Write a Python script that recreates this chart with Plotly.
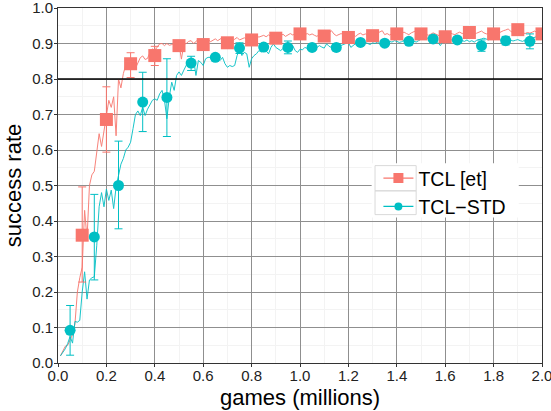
import plotly.graph_objects as go

# Training curves: success rate vs. games played (millions)
games = [round(0.01 * i, 2) for i in range(1, 201)]

tcl_et_curve = [
    0.02, 0.035, 0.047, 0.05, 0.065, 0.08, 0.11, 0.20, 0.24, 0.27,
    0.43, 0.35, 0.50, 0.53, 0.54, 0.60, 0.646, 0.61, 0.65, 0.69,
    0.74, 0.72, 0.75, 0.64, 0.80, 0.775, 0.815, 0.84, 0.845, 0.835,
    0.845, 0.83, 0.845, 0.86, 0.865, 0.855, 0.858, 0.875, 0.885, 0.88,
    0.89, 0.899, 0.90, 0.894, 0.90, 0.895, 0.897, 0.90, 0.895, 0.898,
    0.856, 0.898, 0.90, 0.906, 0.908, 0.90, 0.905, 0.913, 0.905, 0.902,
    0.908, 0.912, 0.905, 0.91, 0.913, 0.908, 0.912, 0.917, 0.91, 0.908,
    0.91, 0.906, 0.912, 0.917, 0.91, 0.913, 0.916, 0.912, 0.918, 0.915,
    0.919, 0.922, 0.918, 0.92, 0.923, 0.919, 0.924, 0.92, 0.922, 0.925,
    0.927, 0.922, 0.926, 0.92, 0.925, 0.928, 0.924, 0.927, 0.93, 0.927,
    0.929, 0.925, 0.928, 0.924, 0.927, 0.923, 0.92, 0.926, 0.929, 0.922,
    0.925, 0.93, 0.936, 0.927, 0.922, 0.925, 0.928, 0.924, 0.92, 0.918,
    0.922, 0.925, 0.92, 0.926, 0.929, 0.924, 0.927, 0.922, 0.925, 0.928,
    0.926, 0.93, 0.933, 0.936, 0.925, 0.928, 0.924, 0.927, 0.93, 0.927,
    0.925, 0.929, 0.932, 0.928, 0.925, 0.93, 0.934, 0.936, 0.93, 0.928,
    0.925, 0.927, 0.923, 0.926, 0.93, 0.927, 0.924, 0.92, 0.925, 0.922,
    0.926, 0.93, 0.927, 0.925, 0.929, 0.932, 0.928, 0.93, 0.933, 0.931,
    0.928, 0.926, 0.929, 0.932, 0.935, 0.93, 0.927, 0.929, 0.926, 0.928,
    0.931, 0.929, 0.933, 0.936, 0.938, 0.941, 0.935, 0.93, 0.934, 0.937,
    0.933, 0.93, 0.928, 0.931, 0.929, 0.932, 0.935, 0.931, 0.933, 0.934,
]

tcl_std_curve = [
    0.02, 0.03, 0.04, 0.055, 0.075, 0.056, 0.117, 0.115, 0.12, 0.20,
    0.257, 0.18, 0.234, 0.24, 0.243, 0.33, 0.44, 0.48, 0.44, 0.49,
    0.458, 0.487, 0.435, 0.496, 0.53, 0.56, 0.576, 0.60, 0.608, 0.622,
    0.66, 0.70, 0.71, 0.697, 0.721, 0.697, 0.715, 0.728, 0.74, 0.744,
    0.74, 0.758, 0.768, 0.74, 0.688, 0.75, 0.791, 0.768, 0.81, 0.82,
    0.81, 0.825, 0.84, 0.852, 0.843, 0.857, 0.81, 0.852, 0.847, 0.838,
    0.857, 0.861, 0.861, 0.866, 0.862, 0.858, 0.852, 0.861, 0.843, 0.833,
    0.838, 0.835, 0.838, 0.866, 0.883, 0.866, 0.875, 0.871, 0.833, 0.857,
    0.866, 0.871, 0.88, 0.876, 0.882, 0.879, 0.871, 0.889, 0.899, 0.889,
    0.885, 0.88, 0.886, 0.889, 0.894, 0.891, 0.894, 0.88, 0.875, 0.884,
    0.882, 0.889, 0.886, 0.889, 0.887, 0.885, 0.889, 0.894, 0.89, 0.887,
    0.899, 0.892, 0.889, 0.886, 0.889, 0.892, 0.894, 0.898, 0.901, 0.903,
    0.889, 0.895, 0.90, 0.898, 0.902, 0.899, 0.903, 0.90, 0.897, 0.902,
    0.90, 0.904, 0.899, 0.901, 0.898, 0.903, 0.906, 0.904, 0.908, 0.906,
    0.903, 0.905, 0.909, 0.913, 0.908, 0.91, 0.907, 0.904, 0.908, 0.913,
    0.916, 0.917, 0.914, 0.917, 0.913, 0.909, 0.903, 0.894, 0.905, 0.91,
    0.912, 0.909, 0.911, 0.907, 0.91, 0.912, 0.908, 0.906, 0.91, 0.905,
    0.908, 0.904, 0.909, 0.912, 0.913, 0.915, 0.913, 0.91, 0.914, 0.915,
    0.917, 0.913, 0.909, 0.906, 0.91, 0.913, 0.91, 0.907, 0.909, 0.911,
    0.908, 0.906, 0.91, 0.913, 0.917, 0.915, 0.918, 0.92, 0.923, 0.925,
]

# Evaluation checkpoints with error bars
tcl_et_x = [0.1, 0.2, 0.3, 0.4, 0.5, 0.6, 0.7, 0.8, 0.9, 1.0,
            1.1, 1.2, 1.3, 1.4, 1.5, 1.6, 1.7, 1.8, 1.9, 2.0]
tcl_et_y = [0.36, 0.686, 0.843, 0.866, 0.894, 0.897, 0.902, 0.91, 0.915, 0.927,
            0.921, 0.917, 0.922, 0.927, 0.927, 0.919, 0.931, 0.927, 0.939, 0.927]
tcl_et_err_hi = [0.136, 0.092, 0.031, 0.026, 0.008, 0.007, 0.006, 0.006, 0.005, 0.005,
                 0.005, 0.005, 0.005, 0.005, 0.005, 0.005, 0.005, 0.005, 0.005, 0.005]
tcl_et_err_lo = [0.132, 0.092, 0.039, 0.028, 0.008, 0.007, 0.006, 0.006, 0.005, 0.005,
                 0.005, 0.005, 0.005, 0.005, 0.005, 0.005, 0.005, 0.005, 0.005, 0.005]

tcl_std_x = [0.05, 0.15, 0.25, 0.35, 0.45, 0.55, 0.65, 0.75, 0.85, 0.95,
             1.05, 1.15, 1.25, 1.35, 1.45, 1.55, 1.65, 1.75, 1.85, 1.95]
tcl_std_y = [0.092, 0.355, 0.50, 0.735, 0.748, 0.845, 0.861, 0.887, 0.89, 0.889,
             0.889, 0.889, 0.903, 0.901, 0.906, 0.913, 0.91, 0.894, 0.908, 0.906]
tcl_std_err_hi = [0.07, 0.12, 0.125, 0.084, 0.109, 0.019, 0.008, 0.015, 0.008, 0.018,
                  0.008, 0.01, 0.008, 0.008, 0.008, 0.008, 0.008, 0.016, 0.012, 0.021]
tcl_std_err_lo = [0.07, 0.121, 0.122, 0.083, 0.11, 0.021, 0.008, 0.015, 0.008, 0.018,
                  0.008, 0.01, 0.008, 0.008, 0.008, 0.008, 0.008, 0.016, 0.012, 0.021]

series_names = ["TCL [et]", "TCL\u2212STD"]
TARGET_RATE = 0.8

x_ticks = [0.0, 0.2, 0.4, 0.6, 0.8, 1.0, 1.2, 1.4, 1.6, 1.8, 2.0]
y_ticks = [0.0, 0.1, 0.2, 0.3, 0.4, 0.5, 0.6, 0.7, 0.8, 0.9, 1.0]

RED = "#F8766D"
CYAN = "#00BFC4"
FONT = "Liberation Sans, Arial, Helvetica, sans-serif"

fig = go.Figure()

# noisy running curves
fig.add_trace(go.Scatter(x=games, y=tcl_et_curve, mode="lines",
                         line=dict(color=RED, width=1), opacity=0.9,
                         showlegend=False, hoverinfo="skip"))
fig.add_trace(go.Scatter(x=games, y=tcl_std_curve, mode="lines",
                         line=dict(color=CYAN, width=1), opacity=0.9,
                         showlegend=False, hoverinfo="skip"))

# checkpoint markers with error bars
fig.add_trace(go.Scatter(
    x=tcl_et_x, y=tcl_et_y, mode="markers",
    marker=dict(symbol="square", size=13, color=RED),
    error_y=dict(type="data", symmetric=False, array=tcl_et_err_hi,
                 arrayminus=tcl_et_err_lo, color=RED, thickness=1, width=4),
    showlegend=False))
fig.add_trace(go.Scatter(
    x=tcl_std_x, y=tcl_std_y, mode="markers",
    marker=dict(symbol="circle", size=11, color=CYAN),
    error_y=dict(type="data", symmetric=False, array=tcl_std_err_hi,
                 arrayminus=tcl_std_err_lo, color=CYAN, thickness=1, width=4),
    showlegend=False))

# legend entries (line + marker)
fig.add_trace(go.Scatter(x=[None], y=[None], mode="lines+markers", name=series_names[0],
                         line=dict(color=RED, width=1.2),
                         marker=dict(symbol="square", size=10, color=RED)))
fig.add_trace(go.Scatter(x=[None], y=[None], mode="lines+markers", name=series_names[1],
                         line=dict(color=CYAN, width=1.2),
                         marker=dict(symbol="circle", size=8, color=CYAN)))

# target success-rate line
fig.add_hline(y=TARGET_RATE, line=dict(color="black", width=1.6))

# legend background and key boxes
fig.add_shape(type="rect", xref="paper", yref="paper", x0=0.648, x1=0.952, y0=0.41, y1=0.563,
              fillcolor="white", line=dict(width=0), layer="above")
fig.add_shape(type="rect", xref="paper", yref="paper", x0=0.655, x1=0.74, y0=0.485, y1=0.556,
              fillcolor="rgba(0,0,0,0)", line=dict(color="#d9d9d9", width=1), layer="above")
fig.add_shape(type="rect", xref="paper", yref="paper", x0=0.655, x1=0.74, y0=0.418, y1=0.485,
              fillcolor="rgba(0,0,0,0)", line=dict(color="#d9d9d9", width=1), layer="above")

# axis title below the x tick labels
fig.add_annotation(text="games (millions)", xref="paper", yref="paper",
                   x=0.5, y=-0.097, xanchor="center", yanchor="middle",
                   showarrow=False, font=dict(family=FONT, size=22, color="black"))

axis_common = dict(
    showgrid=True, gridcolor="#8f8f8f", gridwidth=1,
    showline=True, linecolor="#333333", linewidth=1, mirror=True,
    ticks="outside", ticklen=3, tickcolor="#333333", tickwidth=1,
    tickfont=dict(family=FONT, size=15, color="#222222"),
    ticklabeloverflow="allow",
    zeroline=False, automargin=False,
)

fig.update_layout(
    width=551, height=411,
    margin=dict(l=58, r=9, t=8, b=48),
    paper_bgcolor="white", plot_bgcolor="white",
    font=dict(family=FONT, color="black"),
    xaxis=dict(range=[0, 2], tickvals=x_ticks, ticktext=[f"{v:.1f}" for v in x_ticks],
               ticklabelstandoff=-4,
               minor=dict(dtick=0.1, showgrid=True, gridcolor="#f3f3f3", gridwidth=1),
               **axis_common),
    yaxis=dict(range=[0, 1], tickvals=y_ticks, ticktext=[f"{v:.1f}" for v in y_ticks],
               ticklabelstandoff=-2,
               title=dict(text="success rate", font=dict(size=22), standoff=4),
               minor=dict(dtick=0.05, showgrid=True, gridcolor="#f3f3f3", gridwidth=1),
               **axis_common),
    legend=dict(x=0.662, y=0.575, xanchor="left", yanchor="top",
                bgcolor="rgba(0,0,0,0)", borderwidth=0,
                font=dict(family=FONT, size=19.5, color="black"),
                tracegroupgap=0, itemsizing="trace"),
)

fig.write_html("out.html")
